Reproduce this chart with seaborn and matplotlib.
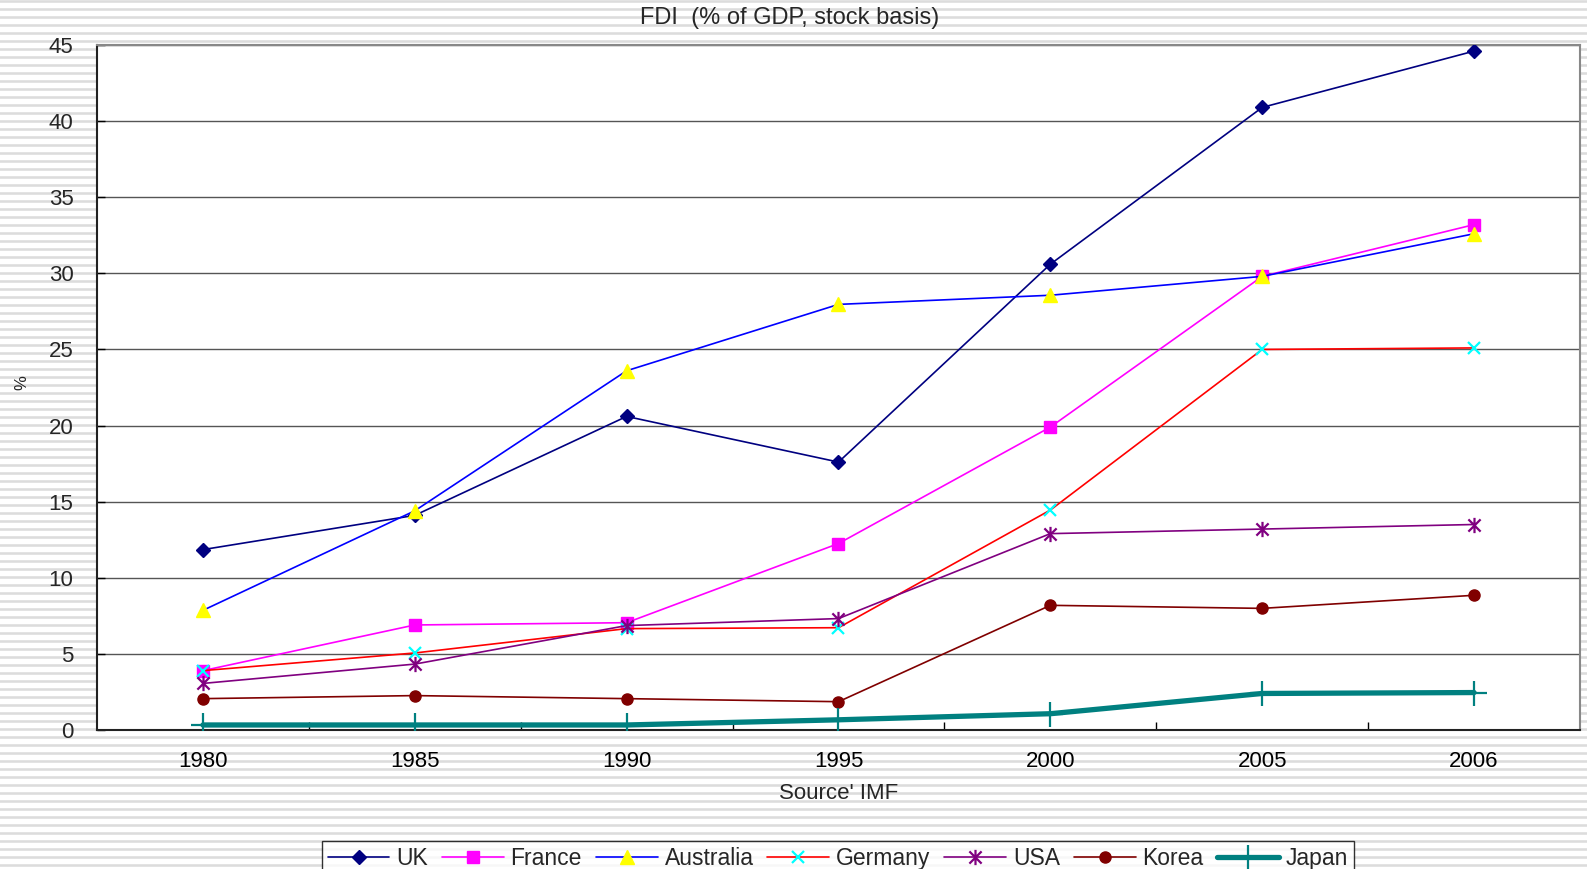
import numpy as np
import pandas as pd
import seaborn as sns
import matplotlib.pyplot as plt
from matplotlib.path import Path
from matplotlib.ticker import FixedLocator

sns.set_style("white")
plt.rcParams["font.family"] = ["Liberation Sans", "DejaVu Sans"]

# --- data ---
years = ["1980", "1985", "1990", "1995", "2000", "2005", "2006"]
uk = [11.85, 14.1, 20.6, 17.6, 30.6, 40.9, 44.6]
france = [3.9, 6.9, 7.05, 12.25, 19.9, 29.8, 33.2]
australia = [7.86, 14.4, 23.6, 27.96, 28.56, 29.8, 32.6]
germany = [3.9, 5.06, 6.66, 6.72, 14.45, 25.0, 25.1]
usa = [3.06, 4.33, 6.86, 7.32, 12.9, 13.2, 13.5]
korea = [2.06, 2.26, 2.06, 1.86, 8.19, 7.99, 8.85]
japan = [0.33, 0.33, 0.33, 0.67, 1.07, 2.4, 2.46]

countries = ["UK", "France", "Australia", "Germany", "USA", "Korea", "Japan"]
series = [uk, france, australia, germany, usa, korea, japan]

# excel-like star marker: x with a vertical bar
star = Path([(-0.8, -0.8), (0.8, 0.8), (-0.8, 0.8), (0.8, -0.8), (0, -1), (0, 1)],
            [Path.MOVETO, Path.LINETO, Path.MOVETO, Path.LINETO, Path.MOVETO, Path.LINETO])

styles = {
    "UK": dict(color="#000080", marker="D", ms=7, mfc="#000080", mec="#000080", lw=1.2),
    "France": dict(color="#FF00FF", marker="s", ms=8, mfc="#FF00FF", mec="#FF00FF", lw=1.2),
    "Australia": dict(color="#0000FF", marker="^", ms=10, mfc="#FFFF00", mec="#FFFF00", lw=1.2),
    "Germany": dict(color="#FF0000", marker="x", ms=9, mfc="#00FFFF", mec="#00FFFF", mew=1.6, lw=1.2),
    "USA": dict(color="#800080", marker=star, ms=11, mfc="none", mec="#800080", mew=1.6, lw=1.2),
    "Korea": dict(color="#800000", marker="o", ms=8, mfc="#800000", mec="#800000", lw=1.2),
    "Japan": dict(color="#008080", marker="+", ms=18, mfc="#008080", mec="#008080", mew=1.6, lw=3.8),
}

rows = []
for name, vals in zip(countries, series):
    for i, (yr, v) in enumerate(zip(years, vals)):
        rows.append({"country": name, "pos": i, "year": yr, "value": v})
df = pd.DataFrame(rows)

W, H = 1587, 869
fig = plt.figure(figsize=(W / 100, H / 100), dpi=100)

# striped slide background
bg = fig.add_axes([0, 0, 1, 1], zorder=-10)
yy = np.arange(H)
phase = yy % 8
shade = np.where(phase < 3, 0.86 + 0.03 * np.abs(phase - 1), 1.0)
bg.imshow(np.tile(shade[:, None], (1, 4)), cmap="gray", vmin=0, vmax=1,
          aspect="auto", extent=[0, 1, 0, 1], interpolation="nearest")
bg.axis("off")

left, right, top, bottom = 97, 1580, 45, 730
ax = fig.add_axes([left / W, 1 - bottom / H, (right - left) / W, (bottom - top) / H])
ax.set_facecolor("white")

for name in countries:
    sub = df[df["country"] == name]
    st = styles[name]
    sns.lineplot(data=sub, x="pos", y="value", ax=ax, label=name,
                 color=st["color"], linewidth=st["lw"], marker=st["marker"],
                 markersize=st["ms"], markerfacecolor=st["mfc"],
                 markeredgecolor=st["mec"], markeredgewidth=st.get("mew", 1.0),
                 zorder=3)

ax.set_xlim(-0.5, len(years) - 0.5)
ax.set_ylim(0, 45)
ax.set_yticks(np.arange(0, 46, 5))
ax.set_xticks(np.arange(len(years)))
ax.set_xticklabels(years)
ax.xaxis.set_minor_locator(FixedLocator(np.arange(0.5, len(years) - 1, 1)))
ax.tick_params(axis="x", which="major", length=0, pad=15, labelsize=16, colors="black")
ax.tick_params(axis="x", which="minor", direction="in", length=6, width=1, color="black", bottom=True)
ax.tick_params(axis="y", direction="in", length=6, width=1, color="black", left=True,
               pad=17, labelsize=16)
ax.grid(axis="y", color="#555555", linewidth=1, zorder=0)
ax.grid(axis="x", visible=False)
ax.set_axisbelow(True)

for s in ["left", "bottom"]:
    ax.spines[s].set_color("#222222")
    ax.spines[s].set_linewidth(1.5)
for s in ["top", "right"]:
    ax.spines[s].set_color("#888888")
    ax.spines[s].set_linewidth(1.5)

ax.set_xlabel("Source' IMF", fontsize=16, labelpad=8)
ax.set_ylabel("")
fig.text(22 / W, 1 - 383 / H, "%", rotation=90, fontsize=12, ha="center", va="center")
fig.text(790 / W, 1 - 18 / H, "FDI  (% of GDP, stock basis)", fontsize=17,
         ha="center", va="center")

handles, labels = ax.get_legend_handles_labels()
ax.get_legend().remove()
leg = fig.legend(handles, labels, loc="upper center", ncol=7,
                 bbox_to_anchor=(838 / W, 1 - 841 / H), fontsize=16.5,
                 frameon=True, fancybox=False, edgecolor="black",
                 handlelength=2.7, handletextpad=0.3, columnspacing=0.6,
                 borderpad=0.25, borderaxespad=0)
leg.get_frame().set_linewidth(1.0)

fig.savefig("out.png", dpi=100)
